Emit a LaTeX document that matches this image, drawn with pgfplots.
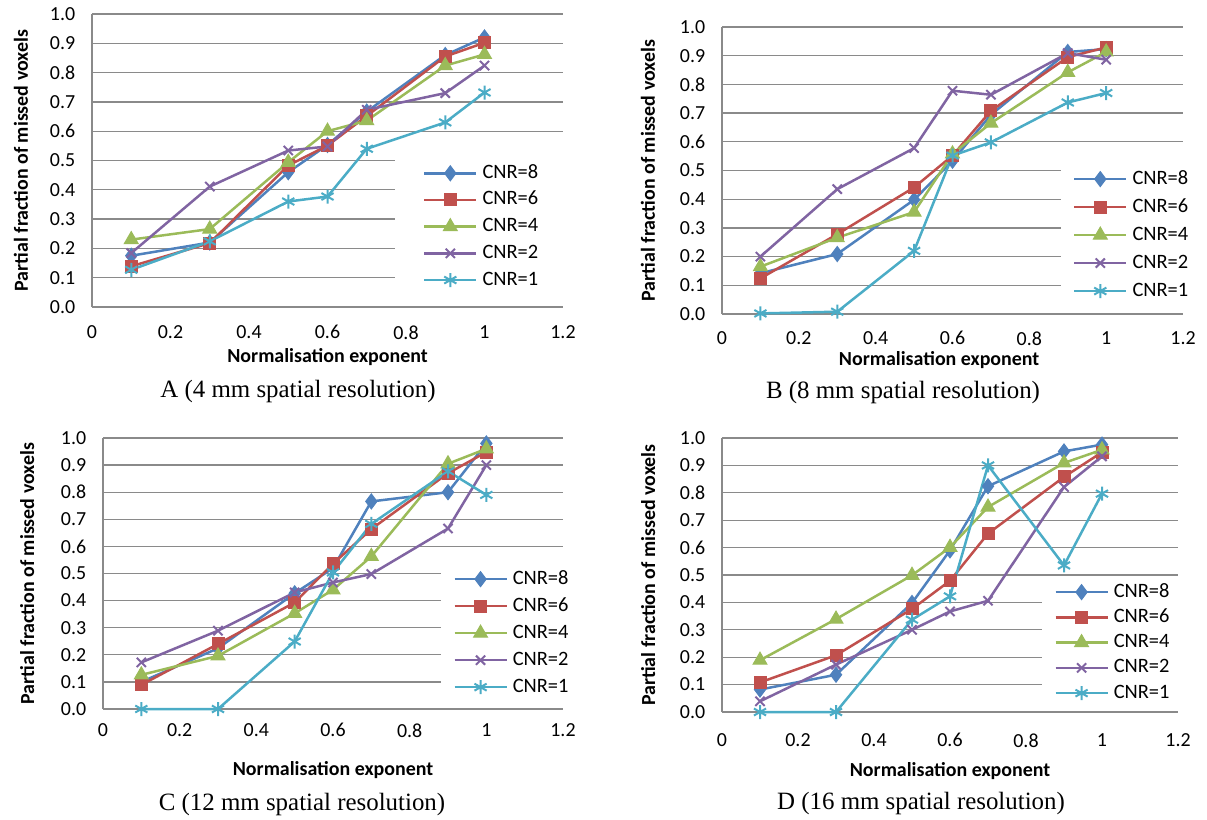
\documentclass[border=0pt]{standalone}
\usepackage{fontspec}
\setmainfont{Carlito}
\newfontfamily\capfont{Liberation Serif}
\usepackage{pgfplots}
\pgfplotsset{compat=1.18}
\usepackage{pgfplotstable}

\definecolor{cA}{HTML}{4F81BD}
\definecolor{cB}{HTML}{C0504D}
\definecolor{cC}{HTML}{9BBB59}
\definecolor{cD}{HTML}{8064A2}
\definecolor{cE}{HTML}{4BACC6}
\definecolor{gridgray}{HTML}{8A8A8A}

\pgfplotstableread{
x c8 c6 c4 c2 c1
0.1 0.175 0.139 0.230 0.184 0.127
0.3 0.220 0.218 0.266 0.411 0.224
0.5 0.460 0.483 0.494 0.534 0.360
0.6 0.553 0.551 0.600 0.548 0.377
0.7 0.667 0.652 0.636 0.673 0.540
0.9 0.860 0.855 0.824 0.730 0.630
1.0 0.920 0.902 0.862 0.824 0.732
}\tabA
\pgfplotstableread{
x c8 c6 c4 c2 c1
0.1 0.142 0.124 0.165 0.200 0.002
0.3 0.209 0.278 0.266 0.435 0.008
0.5 0.398 0.441 0.355 0.578 0.220
0.6 0.534 0.552 0.558 0.778 0.552
0.7 0.694 0.708 0.665 0.764 0.598
0.9 0.913 0.895 0.842 0.909 0.737
1.0 0.923 0.929 0.913 0.886 0.770
}\tabB
\pgfplotstableread{
x c8 c6 c4 c2 c1
0.1 0.100 0.089 0.126 0.172 0.000
0.3 0.224 0.240 0.196 0.289 0.000
0.5 0.427 0.393 0.353 0.430 0.249
0.6 0.520 0.536 0.440 0.467 0.504
0.7 0.766 0.664 0.563 0.498 0.683
0.9 0.800 0.870 0.905 0.666 0.877
1.0 0.980 0.948 0.960 0.900 0.790
}\tabC
\pgfplotstableread{
x c8 c6 c4 c2 c1
0.1 0.082 0.108 0.189 0.039 0.000
0.3 0.136 0.207 0.339 0.173 0.000
0.5 0.398 0.376 0.499 0.300 0.337
0.6 0.590 0.479 0.601 0.367 0.422
0.7 0.824 0.651 0.748 0.406 0.900
0.9 0.951 0.858 0.909 0.821 0.535
1.0 0.976 0.948 0.957 0.933 0.797
}\tabD

\pgfplotsset{
  panel/.style={
    scale only axis, clip=false,
    xmin=0, xmax=1.2, ymin=0, ymax=1,
    xtick={0,0.2,0.4,0.6,0.8,1,1.2},
    xticklabels={0,0.2,0.4,0.6,0.8,1,1.2},
    ytick={0,0.1,0.2,0.3,0.4,0.5,0.6,0.7,0.8,0.9,1},
    yticklabels={0.0,0.1,0.2,0.3,0.4,0.5,0.6,0.7,0.8,0.9,1.0},
    axis lines*=left,
    ymajorgrids,
    grid style={color=gridgray, line width=1.3bp},
    axis line style={color=gridgray, line width=1.3bp},
    major tick length=0pt,
    tick label style={font=\fontsize{20}{22}\selectfont, text=black},
    /pgf/number format/assume math mode=true,
    yticklabel style={xshift=-13.3bp},
    label style={font=\bfseries\fontsize{20}{22}\selectfont},
    xlabel={Normalisation exponent},
    ylabel={Partial fraction of missed voxels},
    legend cell align=left,
    legend image code/.code={\draw[mark repeat=2,mark phase=2] plot coordinates {(0bp,0bp) (26bp,0bp) (52bp,0bp)};},
    legend style={draw=none, fill=white, anchor=north west,
      font=\fontsize{20.5}{22}\selectfont, column sep=5bp,
      nodes={inner sep=0pt, text height=14bp, text depth=4bp}},
  },
  s8/.style={color=cA, line width=2.5bp, mark=diamond*, mark size=7.5bp, mark options={solid, fill=cA, line width=1bp}},
  s6/.style={color=cB, line width=2.5bp, mark=square*, mark size=6bp, mark options={solid, fill=cB, line width=1bp}},
  s4/.style={color=cC, line width=2.5bp, mark=triangle*, mark size=8bp, mark options={solid, fill=cC, line width=1bp}},
  s2/.style={color=cD, line width=2.5bp, mark=x, mark size=6.5bp, mark options={solid, line width=2bp}},
  s1/.style={color=cE, line width=2.5bp, mark=asterisk, mark size=7bp, mark options={solid, line width=2bp}},
}

\newcommand\allseries[1]{%
  \addplot[s8] table[x=x,y=c8] {#1};
  \addplot[s6] table[x=x,y=c6] {#1};
  \addplot[s4] table[x=x,y=c4] {#1};
  \addplot[s2] table[x=x,y=c2] {#1};
  \addplot[s1] table[x=x,y=c1] {#1};
  \legend{CNR=8,CNR=6,CNR=4,CNR=2,CNR=1}%
}

\begin{document}
\begin{tikzpicture}
\useasboundingbox (0,0) rectangle (1207bp,-820bp);

% Panel A
\begin{axis}[panel, at={(92bp,-14bp)}, anchor=north west, width=471bp, height=293bp,
  xticklabel style={yshift=-15bp},
  xlabel style={at={(axis description cs:0.5,-0.171)}, anchor=center},
  ylabel style={at={(axis description cs:-0.151,0.5)}, anchor=center},
  legend style={at={(rel axis cs:0.643,0.522)}, inner xsep=28bp, inner ysep=10bp, row sep=8.7bp}]
\allseries{\tabA}
\end{axis}

% Panel B
\begin{axis}[panel, at={(722bp,-27bp)}, anchor=north west, width=461bp, height=287bp,
  xticklabel style={yshift=-14bp},
  xlabel style={at={(axis description cs:0.471,-0.160)}, anchor=center},
  ylabel style={at={(axis description cs:-0.1605,0.5)}, anchor=center},
  legend style={at={(rel axis cs:0.735,0.537)}, inner xsep=12bp, inner ysep=10bp, row sep=10bp}]
\allseries{\tabB}
\end{axis}

% Panel C
\begin{axis}[panel, at={(103bp,-438bp)}, anchor=north west, width=460bp, height=271bp,
  xticklabel style={yshift=-11bp},
  xlabel style={at={(axis description cs:0.5,-0.225)}, anchor=center},
  ylabel style={at={(axis description cs:-0.165,0.5)}, anchor=center},
  legend style={at={(rel axis cs:0.735,0.550)}, inner xsep=12bp, inner ysep=10bp, row sep=9bp}]
\allseries{\tabC}
\end{axis}

% Panel D
\begin{axis}[panel, at={(722bp,-438bp)}, anchor=north west, width=456bp, height=274bp,
  xticklabel style={yshift=-18bp},
  xlabel style={at={(axis description cs:0.5,-0.215)}, anchor=center},
  ylabel style={at={(axis description cs:-0.162,0.5)}, anchor=center},
  legend style={at={(rel axis cs:0.702,0.493)}, inner xsep=12bp, inner ysep=6bp, row sep=7.25bp}]
\allseries{\tabD}
\end{axis}

\node[font=\capfont\fontsize{25}{28}\selectfont] at (298bp,-392bp) {A (4 mm spatial resolution)};
\node[font=\capfont\fontsize{25}{28}\selectfont] at (903bp,-393bp) {B (8 mm spatial resolution)};
\node[font=\capfont\fontsize{25}{28}\selectfont] at (302bp,-804bp) {C (12 mm spatial resolution)};
\node[font=\capfont\fontsize{25}{28}\selectfont] at (921bp,-803bp) {D (16 mm spatial resolution)};
\end{tikzpicture}
\end{document}
